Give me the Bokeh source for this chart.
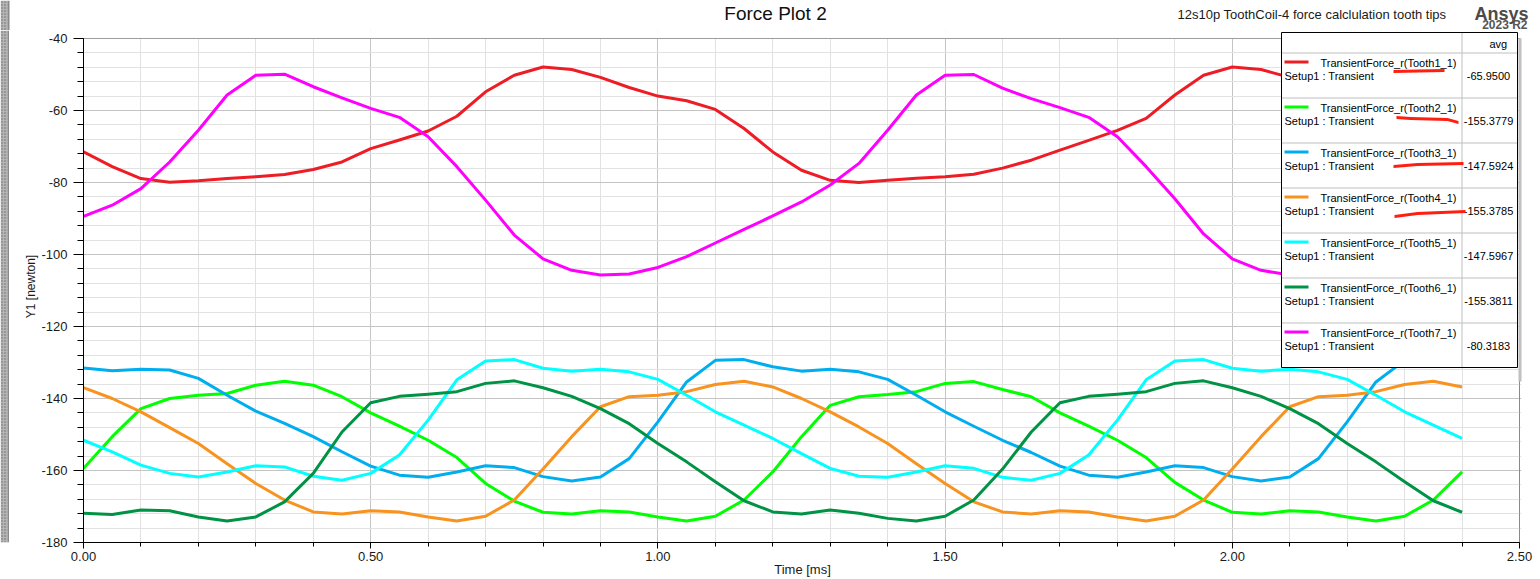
from bokeh.plotting import figure
from bokeh.layouts import column, row
from bokeh.models import (SingleIntervalTicker, NumeralTickFormatter, Range1d, Label,
                          BoxAnnotation, PolyAnnotation)
from bokeh.core.properties import value
from bokeh.embed import file_html
from bokeh.resources import INLINE

# ---------------- data ----------------
time_ms = [0.00, 0.05, 0.10, 0.15, 0.20, 0.25, 0.30, 0.35, 0.40, 0.45,
           0.50, 0.55, 0.60, 0.65, 0.70, 0.75, 0.80, 0.85, 0.90, 0.95,
           1.00, 1.05, 1.10, 1.15, 1.20, 1.25, 1.30, 1.35, 1.40, 1.45,
           1.50, 1.55, 1.60, 1.65, 1.70, 1.75, 1.80, 1.85, 1.90, 1.95,
           2.00, 2.05, 2.10, 2.15, 2.20, 2.25, 2.30, 2.35, 2.40]

tooth1 = [-71.5, -75.6, -78.9, -79.9, -79.5, -78.9, -78.4, -77.8, -76.4, -74.3,
          -70.6, -68.2, -65.7, -61.6, -54.8, -50.2, -47.9, -48.6, -50.8, -53.6,
          -56.0, -57.3, -59.7, -65.0, -71.5, -76.6, -79.4, -80.0, -79.4, -78.8,
          -78.4, -77.7, -76.0, -73.8, -71.0, -68.3, -65.5, -62.2, -55.7, -50.2,
          -47.9, -48.6, -50.8, -53.6, -56.0, -57.3, -59.7, -65.0, -71.5]

tooth2 = [-159.4, -150.6, -142.8, -140.0, -139.1, -138.6, -136.3, -135.2, -136.3, -139.5,
          -144.0, -147.7, -151.6, -156.4, -163.6, -168.5, -171.6, -172.1, -171.2, -171.5,
          -172.9, -174.0, -172.7, -168.2, -160.4, -150.6, -141.9, -139.5, -138.9, -138.1,
          -135.8, -135.3, -137.5, -139.5, -144.0, -147.7, -151.6, -156.4, -163.3, -168.2,
          -171.6, -172.1, -171.2, -171.5, -172.9, -174.0, -172.7, -168.2, -160.4]

tooth3 = [-131.5, -132.3, -131.9, -132.1, -134.4, -139.1, -143.5, -146.9, -150.6, -154.8,
          -158.8, -161.3, -161.9, -160.4, -158.7, -159.2, -161.7, -162.9, -161.8, -156.7,
          -146.5, -135.4, -129.4, -129.2, -131.2, -132.4, -131.9, -132.6, -134.7, -139.1,
          -143.7, -147.7, -151.6, -155.0, -158.8, -161.3, -161.9, -160.4, -158.7, -159.2,
          -161.7, -162.9, -161.8, -156.7, -146.5, -135.4, -129.4, -129.2, -131.2]

tooth4 = [-137.0, -140.0, -143.7, -148.1, -152.5, -158.1, -163.6, -168.2, -171.5, -172.1,
          -171.2, -171.5, -172.9, -174.0, -172.7, -168.2, -159.6, -150.6, -142.3, -139.5,
          -139.1, -138.1, -136.1, -135.2, -136.8, -140.0, -143.7, -147.9, -152.5, -158.1,
          -163.6, -168.7, -171.5, -172.1, -171.2, -171.5, -172.9, -174.0, -172.7, -168.2,
          -159.6, -150.6, -142.3, -139.5, -139.1, -138.1, -136.1, -135.2, -136.8]

tooth5 = [-151.6, -154.8, -158.5, -160.8, -161.8, -160.4, -158.7, -159.0, -161.6, -162.7,
          -160.8, -155.7, -146.0, -134.8, -129.6, -129.2, -131.6, -132.4, -131.9, -132.6,
          -134.7, -139.1, -143.7, -147.4, -151.1, -155.3, -159.4, -161.6, -161.9, -160.4,
          -158.7, -159.4, -161.9, -162.7, -160.8, -155.7, -146.0, -134.8, -129.6, -129.2,
          -131.6, -132.4, -131.9, -132.6, -134.7, -139.1, -143.7, -147.4, -151.1]

tooth6 = [-171.9, -172.2, -171.0, -171.2, -172.9, -174.0, -172.9, -168.7, -160.8, -149.3,
          -141.2, -139.4, -138.8, -138.1, -135.8, -135.1, -137.0, -139.4, -142.8, -147.0,
          -152.5, -157.6, -163.1, -168.4, -171.5, -172.1, -171.0, -171.9, -173.3, -174.0,
          -172.7, -168.2, -159.6, -149.3, -141.2, -139.4, -138.8, -138.1, -135.8, -135.1,
          -137.0, -139.4, -142.8, -147.0, -152.5, -157.6, -163.1, -168.4, -171.6]

tooth7 = [-89.4, -86.3, -81.7, -74.3, -65.5, -55.7, -50.2, -49.9, -53.4, -56.5,
          -59.4, -61.9, -67.3, -75.6, -84.9, -94.6, -101.2, -104.4, -105.7, -105.4,
          -103.6, -100.6, -96.8, -93.0, -89.3, -85.4, -80.7, -74.7, -65.5, -55.7,
          -50.2, -50.0, -53.8, -56.7, -59.2, -61.9, -67.3, -75.6, -84.5, -94.3,
          -101.2, -104.4, -105.7, -105.4, -103.6, -100.6, -96.8, -93.0, -89.3]

series_names = ["TransientForce_r(Tooth1_1)", "TransientForce_r(Tooth2_1)",
                "TransientForce_r(Tooth3_1)", "TransientForce_r(Tooth4_1)",
                "TransientForce_r(Tooth5_1)", "TransientForce_r(Tooth6_1)",
                "TransientForce_r(Tooth7_1)"]
series_setup = "Setup1 : Transient"
series_avg = ["-65.9500", "-155.3779", "-147.5924", "-155.3785",
              "-147.5967", "-155.3811", "-80.3183"]
series_colors = ["#ee1c25", "#00ff00", "#00aeef", "#f7931e", "#00ffff", "#009245", "#ff00ff"]
series_values = [tooth1, tooth2, tooth3, tooth4, tooth5, tooth6, tooth7]

title_text = "Force Plot 2"
subtitle_text = "12s10p  ToothCoil-4 force calclulation tooth tips"
brand_text = "Ansys"
version_text = "2023 R2"

X_MIN, X_MAX = 0.0, 2.5
Y_MIN, Y_MAX = -180.0, -40.0

FONT = "Liberation Sans"
PAGE_W, PAGE_H = 1540, 579
TOP_H = 30
STRIP_W = 9
MAIN_W = PAGE_W - STRIP_W
MAIN_H = PAGE_H - TOP_H

# plot frame in page pixels (the axes box of the reference)
F_LEFT, F_RIGHT, F_TOP, F_BOTTOM = 83, 1519, 38, 542
EXTRA_TOP = 8     # frame is extended upward so the legend can rise above the axes box
EXTRA_RIGHT = 2
px_per_y = (F_BOTTOM - F_TOP) / (Y_MAX - Y_MIN)
px_per_x = (F_RIGHT - F_LEFT) / (X_MAX - X_MIN)

# ---------------- top strip (titles) ----------------
top = figure(width=PAGE_W, height=TOP_H, output_backend="svg", toolbar_location=None,
             x_range=Range1d(0, PAGE_W), y_range=Range1d(TOP_H, 0),
             x_axis_type=None, y_axis_type=None,
             min_border_left=0, min_border_right=0, min_border_top=0, min_border_bottom=0)
top.outline_line_color = None
top.background_fill_color = "white"
top.border_fill_color = "white"

top.quad(left=[0], right=[7], bottom=[TOP_H], top=[0], fill_color="#b4b4b4", line_alpha=0,
         hatch_pattern="dot", hatch_color="#6a6a6a", hatch_scale=3, hatch_weight=1)
top.quad(left=[7], right=[9], bottom=[TOP_H], top=[0], fill_color="#8a8a8a", line_alpha=0)


def ttext(x, y, s, size, align="left", color="#1a1a1a", style="normal"):
    top.text(x=[x], y=[y], text=[s], text_font=value(FONT), text_font_size=value(size),
             text_align=align, text_baseline="alphabetic", text_color=color,
             text_font_style=style)


ttext(775, 13, title_text, "19px", align="center", color="#111111")
ttext(1177, 14, subtitle_text, "13px")
ttext(1528, 13, brand_text, "18px", align="right", color="#4a4a4a", style="bold")
ttext(1527, 24, version_text, "12px", align="right", color="#555555", style="bold")

# ---------------- left window edge ----------------
strip = figure(width=STRIP_W, height=MAIN_H, output_backend="svg", toolbar_location=None,
               x_range=Range1d(0, STRIP_W), y_range=Range1d(0, 1),
               x_axis_type=None, y_axis_type=None,
               min_border_left=0, min_border_right=0, min_border_top=0, min_border_bottom=0)
strip.outline_line_color = None
strip.border_fill_color = "white"
strip.quad(left=[0], right=[7], bottom=[0], top=[1], fill_color="#b4b4b4", line_alpha=0,
           hatch_pattern="dot", hatch_color="#6a6a6a", hatch_scale=3, hatch_weight=1)
strip.quad(left=[7], right=[9], bottom=[0], top=[1], fill_color="#8a8a8a", line_alpha=0)

# ---------------- main plot ----------------
OX, OY = STRIP_W, TOP_H   # page -> main canvas offset
p = figure(width=MAIN_W, height=MAIN_H, output_backend="svg", toolbar_location=None,
           x_range=Range1d(X_MIN, X_MAX + EXTRA_RIGHT / px_per_x),
           y_range=Range1d(Y_MIN, Y_MAX + EXTRA_TOP / px_per_y),
           min_border_left=F_LEFT - OX,
           min_border_right=MAIN_W - (F_RIGHT + EXTRA_RIGHT - OX),
           min_border_top=F_TOP - EXTRA_TOP - OY,
           min_border_bottom=MAIN_H - (F_BOTTOM - OY))
p.background_fill_color = "white"
p.border_fill_color = "white"
p.outline_line_color = None

xt = SingleIntervalTicker(interval=0.5, num_minor_ticks=5)
yt = SingleIntervalTicker(interval=20, num_minor_ticks=5)
p.xaxis.ticker = xt
p.yaxis.ticker = yt
p.xgrid.ticker = xt
p.ygrid.ticker = yt
p.xaxis.bounds = (X_MIN, X_MAX)
p.yaxis.bounds = (Y_MIN, Y_MAX)
p.xaxis.formatter = NumeralTickFormatter(format="0.00")
p.yaxis.formatter = NumeralTickFormatter(format="0")

for g in (p.xgrid, p.ygrid):
    g.grid_line_color = "#c4c4c4"
    g.grid_line_width = 1
    g.minor_grid_line_color = "#e2e2e2"
    g.minor_grid_line_width = 1

for ax in (p.xaxis, p.yaxis):
    ax.axis_line_color = "black"
    ax.major_tick_line_color = "black"
    ax.minor_tick_line_color = "black"
    ax.major_tick_in = 0
    ax.minor_tick_in = 0
    ax.major_label_text_font = FONT
    ax.major_label_text_font_size = "13px"
    ax.major_label_text_color = "#1a1a1a"
    ax.axis_label_text_font = FONT
    ax.axis_label_text_font_style = "normal"
    ax.axis_label_text_color = "#1a1a1a"

p.xaxis.major_tick_out = 6
p.xaxis.minor_tick_out = 4
p.xaxis.major_label_standoff = 3
p.xaxis.axis_label = "Time [ms]"
p.xaxis.axis_label_text_font_size = "13px"
p.xaxis.axis_label_standoff = -2
p.yaxis.major_tick_out = 10
p.yaxis.minor_tick_out = 6
p.yaxis.major_label_standoff = 6
p.yaxis.axis_label = "Y1 [newton]"
p.yaxis.axis_label_text_font_size = "12px"
p.yaxis.axis_label_standoff = 0

# hide the grid in the strip above the axes box, then draw the axes box border
p.add_layout(BoxAnnotation(bottom=Y_MAX, fill_color="white", fill_alpha=1,
                           line_alpha=0, level="underlay"))
p.add_layout(BoxAnnotation(left=X_MIN, right=X_MAX, bottom=Y_MIN, top=Y_MAX,
                           fill_alpha=0, line_color="black", line_width=1, level="underlay"))

for vals, col in zip(series_values, series_colors):
    p.line(time_ms, vals, line_color=col, line_width=3, line_join="round")


# legend table, drawn in page pixels (converted to this canvas)
def lab(x, y, text, size="11px", align="left", color="black"):
    p.add_layout(Label(x=x - OX, y=y - OY, x_units="canvas", y_units="canvas", text=text,
                       text_font=FONT, text_font_size=size, text_align=align,
                       text_baseline="middle", text_color=color, level="overlay"))


def box(l, t, r, b, fill=None, line=None, lw=1):
    p.add_layout(BoxAnnotation(left=l - OX, right=r - OX, top=t - OY, bottom=b - OY,
                               left_units="canvas", right_units="canvas",
                               top_units="canvas", bottom_units="canvas",
                               fill_color=fill if fill else "white",
                               fill_alpha=1 if fill else 0,
                               line_color=line if line else "white", line_width=lw,
                               line_alpha=1 if line else 0, level="annotation"))


def scribble(pts, color="#ff1e10", half=1.4):
    xs = [q[0] - OX for q in pts] + [q[0] - OX for q in reversed(pts)]
    ys = [q[1] - OY - half for q in pts] + [q[1] - OY + half for q in reversed(pts)]
    p.add_layout(PolyAnnotation(xs=xs, ys=ys, xs_units="canvas", ys_units="canvas",
                                fill_color=color, fill_alpha=1, line_alpha=0, level="overlay"))


LX0, LX1, LDIV, LY0, LHEAD, ROWH = 1281, 1517, 1461, 32, 52, 45
n = len(series_names)
LY1 = LHEAD + ROWH * n
box(LX1 + 1, LY0 + 6, LX1 + 8, LY1 + 14, fill="#c0c0c0")
box(LX0, LY0, LX1, LY1, fill="white")
box(LDIV, LY0, LDIV + 1, LY1, fill="#c0c0c0")
for k in range(n):
    yk = LHEAD + ROWH * k
    box(LX0, yk, LX1, yk + 1, fill="#c0c0c0")
box(LX0, LY0, LX1, LY1, line="black", lw=1)
lab((LDIV + LX1) / 2, LY0 + 11, "avg")
for k in range(n):
    top_y = LHEAD + ROWH * k
    box(LX0 + 3, top_y + 8, LX0 + 27, top_y + 11, fill=series_colors[k])
    lab(LX0 + 39, top_y + 10, series_names[k])
    lab(LX0 + 3, top_y + 23, series_setup)
    lab((LDIV + LX1) / 2 - 1, top_y + 23, series_avg[k], align="center")

# hand-drawn red underlines on the legend
scribble([(1393, 71), (1418, 70.5), (1444, 70)])
scribble([(1396, 117), (1410, 118), (1447, 119), (1458, 122)])
scribble([(1393, 166), (1417, 164), (1463, 163)])
scribble([(1394, 216), (1417, 213), (1465, 211)])

layout = column(top, row(strip, p))
open("out.html", "w").write(file_html(layout, INLINE))
